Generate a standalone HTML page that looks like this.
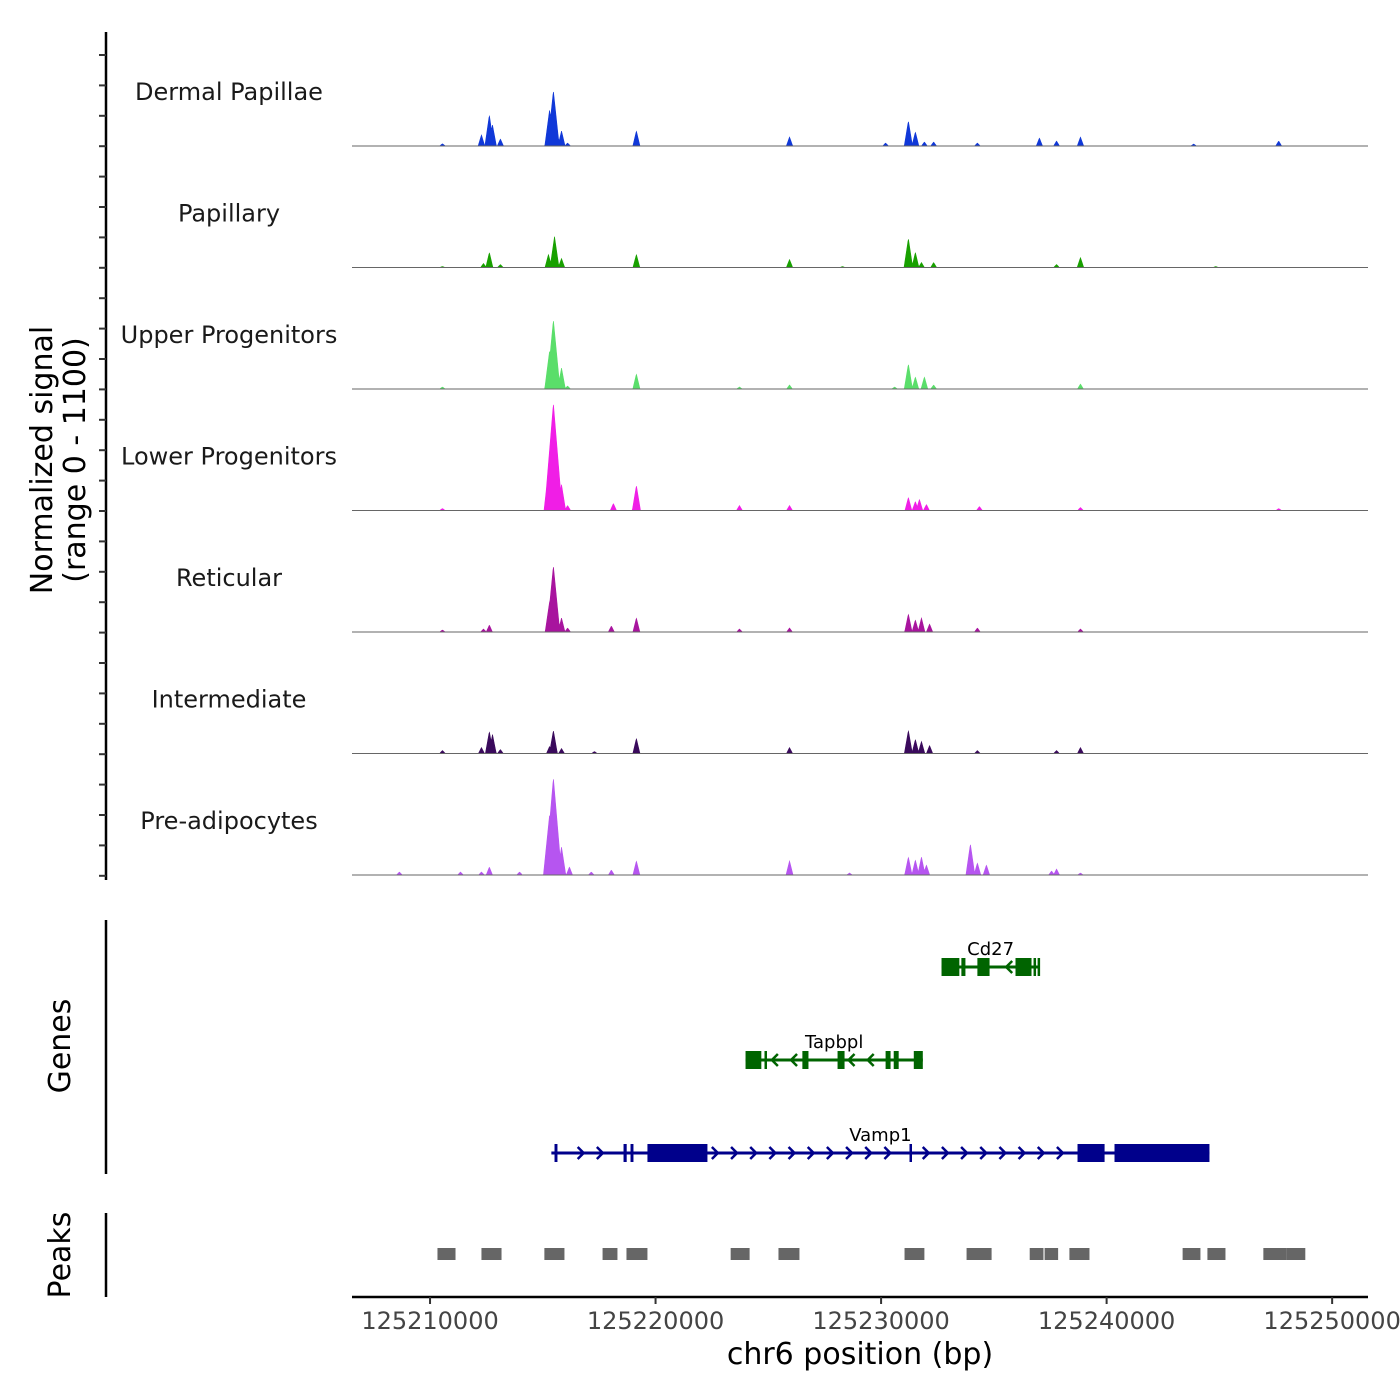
<!DOCTYPE html>
<html><head><meta charset="utf-8"><style>
body{margin:0;background:#fff;}
svg{display:block;font-family:"DejaVu Sans","Liberation Sans",sans-serif;}
</style></head><body>
<svg id="chart" width="1400" height="1400" viewBox="0 0 1400 1400"></svg>
<script>
// ---- data (genomic offsets in kb from 125210000, signal in normalized units) ----
const trackNames = ["Dermal Papillae","Papillary","Upper Progenitors","Lower Progenitors","Reticular","Intermediate","Pre-adipocytes"];
const trackColors = ["#1038d8","#18a000","#5ade6a","#f01ee6","#a8149e","#3a0a5c","#b655f0"];
const peaksDP = [[0.55,20],[2.28,100],[2.63,280],[2.77,190],[3.12,63],[5.30,326],[5.47,498],[5.61,145],[5.83,136],[6.10,27],[9.15,136],[15.94,81],[20.20,27],[21.21,226],[21.52,127],[21.92,36],[22.33,36],[24.27,27],[27.02,72],[27.78,45],[28.84,81],[33.86,18],[37.63,45]];
const peaksPap = [[0.55,9],[2.37,36],[2.63,136],[3.12,27],[5.25,118],[5.52,280],[5.83,81],[9.15,118],[15.94,72],[18.29,9],[21.21,262],[21.52,136],[21.79,45],[22.33,45],[27.78,27],[28.84,90],[34.84,9]];
const peaksUP = [[0.55,18],[5.30,344],[5.47,624],[5.83,190],[6.10,27],[9.15,136],[13.72,18],[15.94,36],[20.60,18],[21.21,226],[21.52,109],[21.92,109],[22.33,36],[28.84,45]];
const peaksLP = [[0.55,18],[5.30,452],[5.47,968],[5.83,235],[6.10,45],[8.13,63],[9.15,226],[13.72,45],[15.94,45],[21.21,118],[21.52,81],[21.70,100],[22.01,54],[24.36,36],[28.84,27],[37.63,18]];
const peaksRet = [[0.55,18],[2.37,27],[2.63,63],[5.30,272],[5.47,597],[5.83,127],[6.10,36],[8.04,54],[9.15,127],[13.72,27],[15.94,36],[21.21,163],[21.52,109],[21.79,127],[22.15,72],[24.27,36],[28.84,27]];
const peaksInt = [[0.55,27],[2.28,54],[2.63,199],[2.77,172],[3.12,36],[5.30,63],[5.47,208],[5.83,45],[7.29,18],[9.15,136],[15.94,54],[21.21,208],[21.52,127],[21.79,109],[22.15,72],[24.27,27],[27.78,27],[28.84,54]];
const peaksPre = [[-1.36,27],[1.35,27],[2.28,27],[2.63,72],[3.97,27],[5.30,543],[5.47,878],[5.83,253],[6.18,72],[7.15,27],[8.04,45],[9.15,127],[15.94,127],[18.60,18],[21.21,163],[21.52,136],[21.79,163],[22.01,90],[23.96,280],[24.27,109],[24.67,90],[27.56,36],[27.78,54],[28.84,18]];
const allPeaks = [peaksDP,peaksPap,peaksUP,peaksLP,peaksRet,peaksInt,peaksPre];
const peakRegions = [[0.33,1.13],[2.28,3.17],[5.07,5.96],[7.65,8.31],[8.71,9.64],[13.33,14.17],[15.45,16.38],[21.04,21.92],[23.79,24.90],[26.59,27.20],[27.25,27.85],[28.35,29.24],[33.37,34.16],[34.47,35.27],[36.95,37.97],[37.97,38.81]];
const genes = [
 {name:"Cd27",strand:-1,color:"#006400",row:0,start:22.68,end:27.03,exons:[[22.68,23.47],[23.56,23.74],[24.27,24.81],[25.96,26.67],[26.76,26.85],[26.94,27.03]]},
 {name:"Tapbpl",strand:-1,color:"#006400",row:1,start:13.99,end:21.85,exons:[[13.99,14.69],[14.83,14.92],[16.51,16.78],[18.07,18.38],[20.20,20.42],[20.56,20.78],[21.45,21.85]]},
 {name:"Vamp1",strand:1,color:"#00008b",row:2,start:5.38,end:34.56,exons:[[5.52,5.65],[8.58,8.72],[8.89,9.02],[9.64,12.30],[21.26,21.35],[28.71,29.91],[30.35,34.56]]}
];
const xTicks = [0,10,20,30,40];
const xTickLabels = ["125210000","125220000","125230000","125240000","125250000"];
const yMax = 1100;

// ---- scales ----
const X0=352, X1=1368, kbMin=-3.46, kbMax=41.59;
const sx = kb => X0 + (kb-kbMin)/(kbMax-kbMin)*(X1-X0);
const trackTop0=24.5, trackH=121.5;
const NS="http://www.w3.org/2000/svg";
const svg=document.getElementById('chart');
function mk(tag,attrs,parent){const e=document.createElementNS(NS,tag);for(const k in attrs)e.setAttribute(k,attrs[k]);(parent||svg).appendChild(e);return e;}

// y axis for signal
const ax=mk('line',{x1:106,y1:32,x2:106,y2:880,stroke:'#000','stroke-width':2.5});


for(let y=55;y<=880;y+=30.4){const t=mk('line',{x1:99,y1:y,x2:106,y2:y,stroke:'#333','stroke-width':2});

}
const yl=mk('text',{transform:'translate(52,460) rotate(-90)','text-anchor':'middle','font-size':30,fill:'#000'});
yl.textContent='Normalized signal';


const yl2=mk('text',{transform:'translate(85,460) rotate(-90)','text-anchor':'middle','font-size':30,fill:'#000'});
yl2.textContent='(range 0 - 1100)';



// tracks
allPeaks.forEach((pk,i)=>{
 const base=trackTop0+trackH*(i+1);
 const g=mk('g',{});
 
 
 const lab=mk('text',{x:229,y:base-46,'text-anchor':'middle','font-size':24,fill:'#1a1a1a'},g);
 lab.textContent=trackNames[i];
 
 
 let d='M'+X0+','+base;
 for(let px=X0;px<=X1;px+=0.5){
  const kb=kbMin+(px-X0)/(X1-X0)*(kbMax-kbMin);
  let v=0;
  pk.forEach(([c,h])=>{const hw=0.12+h/1000*0.28;const dd=Math.abs(kb-c);if(dd<hw){v=Math.max(v,h*(1-dd/hw));}});
  d+=' L'+px+','+(base-v/yMax*trackH).toFixed(2);
 }
 d+=' L'+X1+','+base+' Z';
 const p=mk('path',{d:d,fill:trackColors[i],stroke:trackColors[i],'stroke-width':0.6},g);
 
 
 const bl=mk('line',{x1:X0,y1:base,x2:X1,y2:base,stroke:'#666','stroke-width':1},g);
 
 
});

// genes panel
const ga=mk('line',{x1:106,y1:920,x2:106,y2:1174,stroke:'#000','stroke-width':2.5});


const gt=mk('text',{transform:'translate(70,1046) rotate(-90)','text-anchor':'middle','font-size':30});
gt.textContent='Genes';


const rowY=[967,1060,1153];
genes.forEach(gn=>{
 const y=rowY[gn.row];
 const g=mk('g',{});
 
 
 const ln=mk('line',{x1:sx(gn.start),y1:y,x2:sx(gn.end),y2:y,stroke:gn.color,'stroke-width':3},g);
 
 
 for(let k=gn.start+0.45;k<gn.end-0.2;k+=0.85){
  const inEx=gn.exons.some(([a,b])=>k>a-0.25&&k<b+0.25);
  if(inEx)continue;
  const x=sx(k);
  const c=mk('path',{d:`M${x-3*gn.strand},${y-6} L${x+3*gn.strand},${y} L${x-3*gn.strand},${y+6}`,fill:'none',stroke:gn.color,'stroke-width':2.5},g);
  
  
 }
 gn.exons.forEach(([a,b])=>{
  const r=mk('rect',{x:sx(a),y:y-9,width:Math.max(sx(b)-sx(a),2.5),height:18,fill:gn.color},g);
  
  
 });
 const t=mk('text',{x:(sx(gn.start)+sx(gn.end))/2,y:y-12,'text-anchor':'middle','font-size':18,fill:'#000'},g);
 t.textContent=gn.name;
 
 
});

// peaks panel
const pa=mk('line',{x1:106,y1:1213,x2:106,y2:1297,stroke:'#000','stroke-width':2.5});


const pt=mk('text',{transform:'translate(70,1255) rotate(-90)','text-anchor':'middle','font-size':30});
pt.textContent='Peaks';


peakRegions.forEach(([a,b])=>{
 const r=mk('rect',{x:sx(a),y:1248,width:sx(b)-sx(a),height:12,fill:'#666'});
 
 
});

// x axis
const xa=mk('line',{x1:X0,y1:1297,x2:X1,y2:1297,stroke:'#000','stroke-width':2.5});


xTicks.forEach((v,i)=>{
 const x=sx(v);
 const t=mk('line',{x1:x,y1:1297,x2:x,y2:1304,stroke:'#333','stroke-width':2});
 
 
 const l=mk('text',{x:x,y:1329,'text-anchor':'middle','font-size':24,fill:'#444'});
 l.textContent=xTickLabels[i];
 
 
});
const xt=mk('text',{x:860,y:1364,'text-anchor':'middle','font-size':30,fill:'#000'});
xt.textContent='chr6 position (bp)';


</script>
</body></html>
